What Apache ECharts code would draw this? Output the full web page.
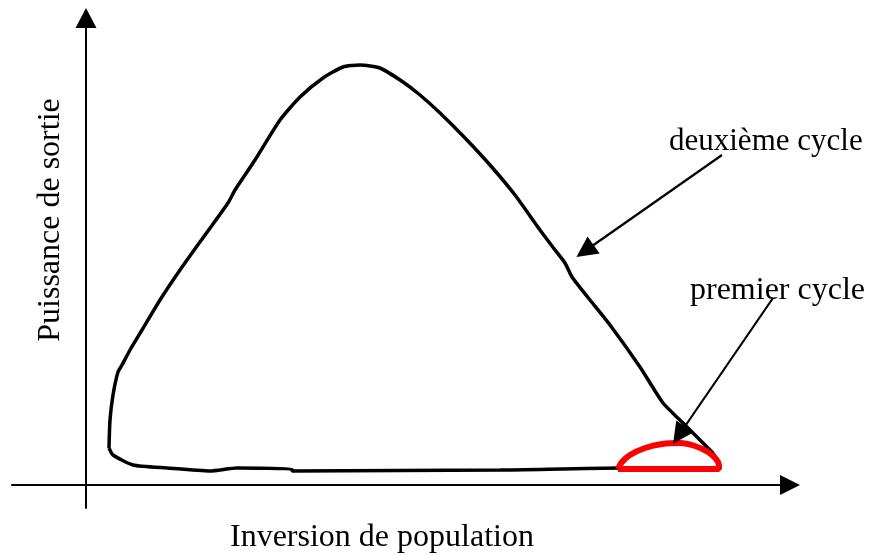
<!DOCTYPE html>
<html>
<head>
<meta charset="utf-8">
<script src="https://cdn.jsdelivr.net/npm/echarts@6/dist/echarts.min.js"></script>
<style>
  html, body { margin: 0; padding: 0; background: #fff; }
  #main { width: 871px; height: 556px; }
</style>
</head>
<body>
<div id="main"></div>
<script>
// cycle 2 (black loop): [inversion, puissance]
const deuxiemeCycle = [
  [23, 37], [24, 65], [27, 90], [32, 113], [36, 120], [44, 135], [56, 155],
  [74, 185], [94, 215], [119, 250], [142, 282], [149, 295], [169, 325],
  [194, 365], [214, 388], [237, 407], [257, 418], [274, 420], [294, 417],
  [317, 403], [334, 390], [354, 372], [379, 347], [404, 320], [429, 290],
  [454, 255], [469, 235], [479, 222], [486, 208], [504, 185], [524, 160],
  [554, 118], [577, 82], [596, 63], [621, 38], [626, 33], [632, 23],
  [632, 17], [534, 17], [414, 15], [206, 14], [206, 16], [151, 17],
  [124, 14], [81, 17], [47, 20], [27, 30], [23, 37]
]
// cycle 1 (red dome)
const premierCycle = [
  [532, 16], [536, 23], [544, 30], [559, 37], [576, 41], [594, 42],
  [609, 39], [622, 33], [630, 26], [633, 19], [633, 16], [532, 16]
]
// annotation arrows: [from, to]
const flecheDeuxieme = [[636, 330], [499, 234]]
const flechePremier = [[687, 187], [593, 50]]

const fontSerif = 'Liberation Serif'

let myChart = echarts.init(document.getElementById('main'))
myChart.setOption({
  animation: false,
  backgroundColor: '#fff',
  grid: { left: 12, right: 81, top: 18, bottom: 48 },
  xAxis: {
    type: 'value',
    min: -74,
    max: 704,
    axisLine: {
      onZero: true,
      symbol: ['none', 'triangle'],
      symbolSize: [20, 20],
      lineStyle: { color: '#000', width: 2 }
    },
    axisTick: { show: false },
    axisLabel: { show: false },
    splitLine: { show: false }
  },
  yAxis: {
    type: 'value',
    min: -23,
    max: 467,
    axisLine: {
      show: true,
      onZero: true,
      symbol: ['none', 'triangle'],
      symbolSize: [21, 20],
      lineStyle: { color: '#000', width: 2 }
    },
    axisTick: { show: false },
    axisLabel: { show: false },
    splitLine: { show: false }
  },
  graphic: [
    {
      type: 'text', left: 230, top: 522,
      style: { text: 'Inversion de population', font: '32px "' + fontSerif + '"', fill: '#000' }
    },
    {
      type: 'text', x: 51, y: 220, rotation: Math.PI / 2,
      style: { text: 'Puissance de sortie', font: '32px "' + fontSerif + '"', fill: '#000', align: 'center', verticalAlign: 'middle' }
    },
    {
      type: 'text', x: 669, y: 142,
      style: { text: 'deuxième cycle', font: '31px "' + fontSerif + '"', fill: '#000', align: 'left', verticalAlign: 'middle' }
    },
    {
      type: 'text', x: 690, y: 291,
      style: { text: 'premier cycle', font: '32px "' + fontSerif + '"', fill: '#000', align: 'left', verticalAlign: 'middle' }
    }
  ],
  series: [
    {
      name: 'deuxième cycle',
      type: 'line',
      data: deuxiemeCycle,
      showSymbol: false,
      smooth: 0.2,
      lineStyle: { color: '#000', width: 3.5 },
      z: 3
    },
    {
      name: 'premier cycle',
      type: 'line',
      data: premierCycle,
      showSymbol: false,
      smooth: 0.3,
      lineStyle: { color: '#ff0000', width: 6 },
      z: 4
    },
    {
      type: 'lines',
      coordinateSystem: 'cartesian2d',
      symbol: ['none', 'triangle'],
      symbolSize: 21,
      lineStyle: { color: '#000', width: 2.2, opacity: 1 },
      data: [
        { coords: flecheDeuxieme },
        { coords: flechePremier }
      ],
      z: 5
    }
  ]
})
</script>
</body>
</html>
